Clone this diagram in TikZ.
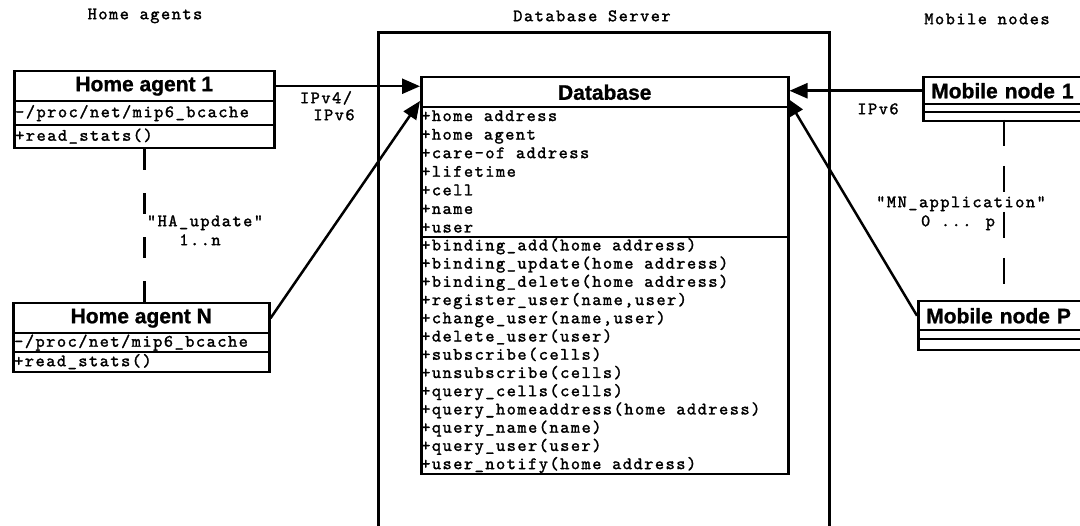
\documentclass[tikz,border=0pt]{standalone}
\usepackage{fontspec}
\setmainfont{Liberation Sans}
\newfontfamily\monofont[LetterSpace=8.6, FakeBold=1.6]{lmmono10-regular.otf}
\newfontfamily\ttlfont[BoldFeatures={FakeBold=1}]{Liberation Sans}
\usetikzlibrary{arrows.meta,calc}

\begin{document}
\begin{tikzpicture}[x=1pt,y=-1pt,
  mono/.style={font={\monofont\fontsize{17.5}{19}\selectfont}, inner sep=0pt, text height=9pt, text depth=2.5pt},
  lbl/.style={mono},
  ttlbox/.style={draw, line width=2.5pt, inner sep=0pt, anchor=north west,
    font={\ttlfont\bfseries\fontsize{21}{24}\selectfont}},
  cmpbox/.style={draw, line width=2.5pt, inner sep=0pt, anchor=north west},
  row/.style={mono, anchor=west},
  conn/.style={line width=2.5pt, -{Triangle[length=18pt,width=15pt]}},
  dashln/.style={line width=2.5pt},
  frame/.style={line width=3pt}]

\path[use as bounding box] (0,0) rectangle (1080,526);
\clip (0,0) rectangle (1080,526);
\fill[white] (0,0) rectangle (1080,526);

% group headings
\node[lbl] (hHA) at (145,16) {Home agents};
\node[lbl] (hDB) at (592,18) {Database Server};
\node[lbl] (hMN) at (987,21) {Mobile nodes};

% database server frame (runs past the lower edge)
\draw[frame] (378,545) -- (378,33) -- (829,33) -- (829,545);

% ---- Home agent 1
\node[ttlbox, minimum width=260pt, minimum height=30pt] (ha1T) at (13,70) {Home agent 1};
\node[cmpbox, minimum width=260pt, minimum height=24pt] (ha1A) at (13,100) {};
\node[cmpbox, minimum width=260pt, minimum height=23pt] (ha1M) at (13,124) {};
\node[row] (ha1a) at (15,114) {-/proc/net/mip6\_bcache};
\node[row] (ha1m) at (15,137.5) {+read\_stats()};

% ---- Home agent N
\node[ttlbox, minimum width=256pt, minimum height=30pt] (hanT) at (12,302) {Home agent N};
\node[cmpbox, minimum width=256pt, minimum height=19pt] (hanA) at (12,332) {};
\node[cmpbox, minimum width=256pt, minimum height=20pt] (hanM) at (12,351) {};
\node[row] (hana) at (14,343.5) {-/proc/net/mip6\_bcache};
\node[row] (hanm) at (14,363) {+read\_stats()};

% ---- Database
\node[ttlbox, minimum width=367pt, minimum height=30pt] (dbT) at (420,76) {Database};
\node[cmpbox, minimum width=367pt, minimum height=130pt] (dbA) at (420,106) {};
\node[cmpbox, minimum width=367pt, minimum height=237pt] (dbM) at (420,236) {};
\foreach \t [count=\i] in {{+home address},{+home agent},{+care-of address},
    {+lifetime},{+cell},{+name},{+user}}
  \node[row] (dba\i) at (421,{106+(\i-0.5)*18.57+2.5}) {\t};
\foreach \t [count=\i] in {{+binding\_add(home address)},{+binding\_update(home address)},
    {+binding\_delete(home address)},{+register\_user(name,user)},
    {+change\_user(name,user)},{+delete\_user(user)},{+subscribe(cells)},
    {+unsubscribe(cells)},{+query\_cells(cells)},{+query\_homeaddress(home address)},
    {+query\_name(name)},{+query\_user(user)},{+user\_notify(home address)}}
  \node[row] (dbm\i) at (421,{236+(\i-0.5)*18.23+2}) {\t};

% ---- Mobile node 1
\node[ttlbox, minimum width=180pt, minimum height=27pt, anchor=north west, inner xsep=8pt, text width=164pt, align=left] (mn1T) at (922,76) {Mobile node 1};
\node[cmpbox, minimum width=180pt, minimum height=8pt] (mn1A) at (922,103) {};
\node[cmpbox, minimum width=180pt, minimum height=9pt] (mn1M) at (922,111) {};

% ---- Mobile node P
\node[ttlbox, minimum width=185pt, minimum height=29pt, anchor=north west, inner xsep=8pt, text width=169pt, align=left] (mnpT) at (917,300) {Mobile node P};
\node[cmpbox, minimum width=185pt, minimum height=9pt] (mnpA) at (917,329) {};
\node[cmpbox, minimum width=185pt, minimum height=11pt] (mnpM) at (917,338) {};

% connector end points on the database class
\coordinate (dbInL) at (420,101);
\coordinate (dbInR) at (787,98);
\coordinate (mnDash) at (1004,120);

% connectors
\draw[conn] (ha1T.east) -- (dbT.west |- ha1T.east);
\draw[conn] (hanT.east) -- (dbInL);
\draw[conn] (mn1T.west) -- (dbT.east |- mn1T.west);
\draw[conn] (mnpT.west) -- (dbInR);

\draw[dashln, dash pattern=on 21pt off 23pt] (ha1M.south) -- (ha1M.south |- hanT.north);
\draw[dashln, dash pattern=on 26pt off 20pt] (mnDash) -- (mnDash |- mnpT.north);

% connector labels
\node[lbl] (ipA) at (326,100) {IPv4/};
\node[lbl] (ipB) at (334,117) {IPv6};
\node[lbl] (ipC) at (878,111) {IPv6};
\node[lbl] (haU) at (205,223) {"HA\_update"};
\node[lbl] (haN) at (200,242) {1..n};
\node[lbl] (mnU) at (961,204) {"MN\_application"};
\node[lbl] (mnN) at (958,223) {0 ... p};
\end{tikzpicture}
\end{document}
